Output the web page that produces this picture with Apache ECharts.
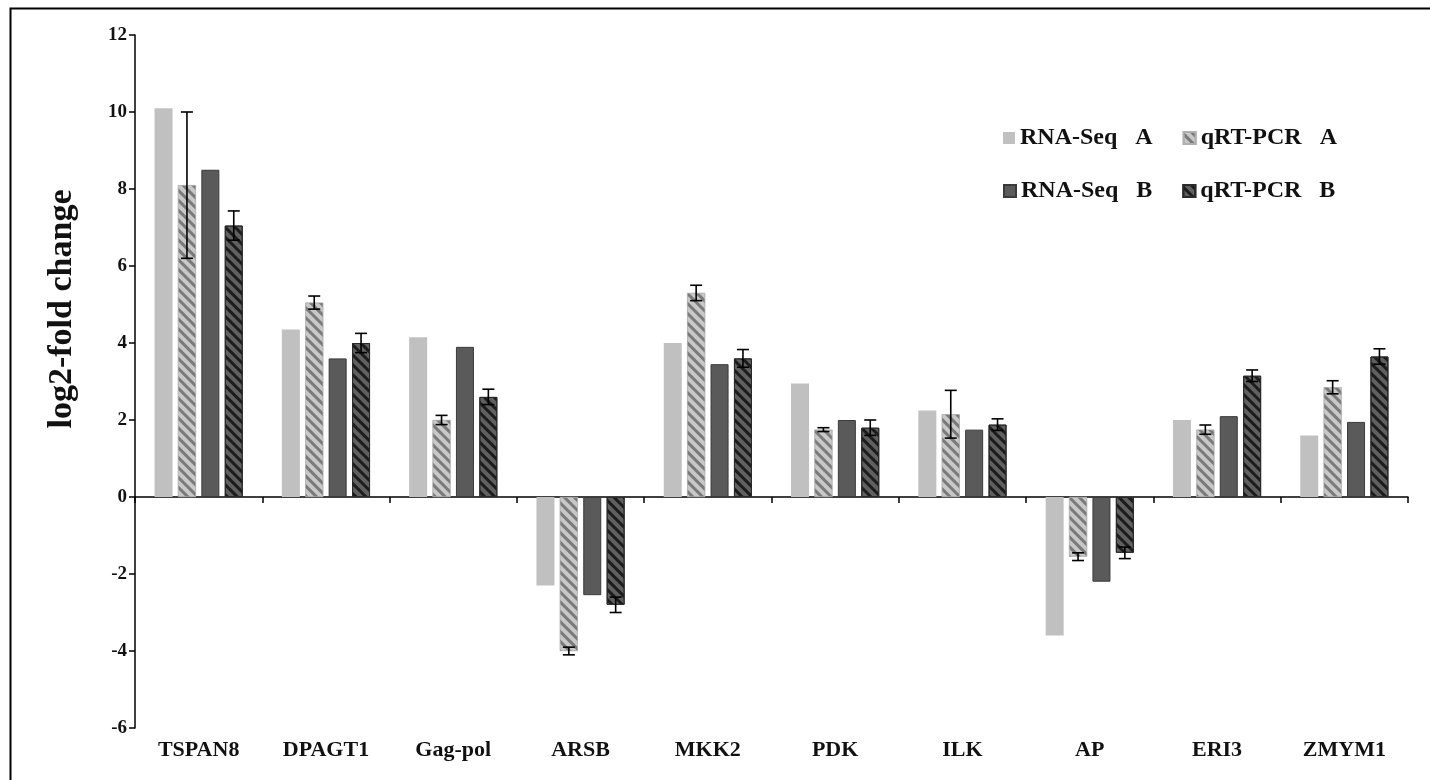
<!DOCTYPE html>
<html>
<head>
<meta charset="utf-8">
<title>log2-fold change</title>
<script src="https://cdn.jsdelivr.net/npm/echarts@6/dist/echarts.min.js"></script>
<style>
  html, body { margin: 0; padding: 0; background: #ffffff; }
  #chart { width: 1430px; height: 780px; }
</style>
</head>
<body>
<div id="chart"></div>
<script>
// Genes on the x axis
var genes = ['TSPAN8', 'DPAGT1', 'Gag-pol', 'ARSB', 'MKK2', 'PDK', 'ILK', 'AP', 'ERI3', 'ZMYM1'];

// Series names (as shown in the legend)
var seriesNames = ['RNA-Seq   A', 'qRT-PCR   A', 'RNA-Seq   B', 'qRT-PCR   B'];

// log2-fold change values
var rnaSeqA = [10.1, 4.35, 4.15, -2.3, 4.0, 2.95, 2.25, -3.6, 2.0, 1.6];
var qpcrA   = [8.1, 5.05, 2.0, -4.0, 5.3, 1.75, 2.15, -1.55, 1.75, 2.85];
var rnaSeqB = [8.5, 3.6, 3.9, -2.55, 3.45, 2.0, 1.75, -2.2, 2.1, 1.95];
var qpcrB   = [7.05, 4.0, 2.6, -2.8, 3.6, 1.8, 1.88, -1.45, 3.15, 3.65];

// Standard deviations for the qRT-PCR measurements
var qpcrAErr = [1.9, 0.17, 0.12, 0.1, 0.2, 0.05, 0.62, 0.1, 0.12, 0.17];
var qpcrBErr = [0.38, 0.25, 0.2, 0.2, 0.23, 0.2, 0.15, 0.15, 0.15, 0.2];

// Y axis ticks
var yMin = -6, yMax = 12, yStep = 2;

var FONT = '"Liberation Serif", "Times New Roman", serif';
var BAR_W = 18;
var BAR_GAP = 0.3; // fraction of bar width

// horizontal offset of bar k (0..3) from the category centre
function barOffset(k) {
  var gap = BAR_W * BAR_GAP;
  var total = 4 * BAR_W + 3 * gap;
  return -total / 2 + BAR_W / 2 + k * (BAR_W + gap);
}

function errorBarSeries(values, errs, k) {
  var data = values.map(function (v, i) { return [i, v, errs[i]]; });
  return {
    type: 'custom',
    name: seriesNames[k] + ' err',
    xAxisIndex: 0,
    yAxisIndex: 0,
    z: 5,
    silent: true,
    data: data,
    renderItem: function (params, api) {
      var i = api.value(0);
      var v = api.value(1);
      var e = api.value(2);
      var top = api.coord([i, v + e]);
      var bot = api.coord([i, v - e]);
      var x = top[0] + barOffset(k);
      var cap = 6;
      var st = { stroke: '#000', lineWidth: 1.6 };
      return {
        type: 'group',
        children: [
          { type: 'line', shape: { x1: x, y1: top[1], x2: x, y2: bot[1] }, style: st },
          { type: 'line', shape: { x1: x - cap, y1: top[1], x2: x + cap, y2: top[1] }, style: st },
          { type: 'line', shape: { x1: x - cap, y1: bot[1], x2: x + cap, y2: bot[1] }, style: st }
        ]
      };
    }
  };
}

// diagonal hatching running from upper left to lower right
var hatchA = {
  symbol: 'rect', symbolSize: 1,
  dashArrayX: [1, 0], dashArrayY: [3, 4],
  rotation: Math.PI / 4, color: '#7a7a7a'
};
var hatchB = {
  symbol: 'rect', symbolSize: 1,
  dashArrayX: [1, 0], dashArrayY: [3, 4],
  rotation: Math.PI / 4, color: '#1c1c1c'
};

var legendText = { fontFamily: FONT, fontWeight: 'bold', fontSize: 24, color: '#111' };

var option = {
  animation: false,
  backgroundColor: '#ffffff',
  grid: { left: 135, right: 22, top: 35, bottom: 52, containLabel: false },
  legend: [
    {
      data: [seriesNames[0], seriesNames[1]],
      left: 998, top: 121, itemWidth: 12, itemHeight: 12, itemGap: 30,
      icon: 'rect', textStyle: legendText, selectedMode: false
    },
    {
      data: [seriesNames[2], seriesNames[3]],
      left: 998, top: 174, itemWidth: 12, itemHeight: 12, itemGap: 30,
      icon: 'rect', textStyle: legendText, selectedMode: false
    }
  ],
  xAxis: [
    {
      // category names along the bottom edge
      type: 'category',
      data: genes,
      position: 'bottom',
      axisLine: { show: false, onZero: false },
      axisTick: { show: false },
      axisLabel: {
        margin: 11, color: '#111',
        fontFamily: FONT, fontWeight: 'bold', fontSize: 22
      }
    },
    {
      // baseline at zero with ticks between categories
      type: 'category',
      data: genes,
      position: 'bottom',
      axisLine: { show: true, onZero: true, lineStyle: { color: '#000', width: 1.5 } },
      axisTick: { show: true, length: 6, inside: false, lineStyle: { color: '#000', width: 1.5 } },
      axisLabel: { show: false }
    }
  ],
  yAxis: {
    type: 'value',
    min: yMin, max: yMax, interval: yStep,
    splitLine: { show: false },
    axisLine: { show: true, lineStyle: { color: '#000', width: 1.5 } },
    axisTick: { show: true, length: 6, lineStyle: { color: '#000', width: 1.5 } },
    axisLabel: {
      margin: 8, color: '#111',
      fontFamily: FONT, fontWeight: 'bold', fontSize: 19
    }
  },
  series: [
    {
      name: seriesNames[0], type: 'bar', data: rnaSeqA,
      barWidth: BAR_W, barGap: (BAR_GAP * 100) + '%',
      itemStyle: { color: '#c0c0c0' }
    },
    {
      name: seriesNames[1], type: 'bar', data: qpcrA,
      barWidth: BAR_W, barGap: (BAR_GAP * 100) + '%',
      itemStyle: { color: '#c8c8c8', decal: hatchA, borderColor: '#b0b0b0', borderWidth: 0.6 }
    },
    {
      name: seriesNames[2], type: 'bar', data: rnaSeqB,
      barWidth: BAR_W, barGap: (BAR_GAP * 100) + '%',
      itemStyle: { color: '#5a5a5a', borderColor: '#3a3a3a', borderWidth: 1 }
    },
    {
      name: seriesNames[3], type: 'bar', data: qpcrB,
      barWidth: BAR_W, barGap: (BAR_GAP * 100) + '%',
      itemStyle: { color: '#606060', decal: hatchB, borderColor: '#2a2a2a', borderWidth: 1 }
    },
    errorBarSeries(qpcrA, qpcrAErr, 1),
    errorBarSeries(qpcrB, qpcrBErr, 3)
  ],
  graphic: [
    {
      // frame along the left and top edges
      type: 'rect', left: 8, top: 6, z: 100, silent: true,
      shape: { width: 1500, height: 900 },
      style: { fill: 'none', stroke: '#000', lineWidth: 2 }
    },
    {
      type: 'text', x: 62, y: 309, rotation: Math.PI / 2, z: 100,
      style: {
        text: 'log2-fold change', fill: '#111',
        font: 'bold 34px ' + FONT,
        textAlign: 'center', textVerticalAlign: 'middle'
      }
    }
  ]
};

var chart = echarts.init(document.getElementById('chart'), null, { renderer: 'canvas' });
chart.setOption(option);
</script>
</body>
</html>
